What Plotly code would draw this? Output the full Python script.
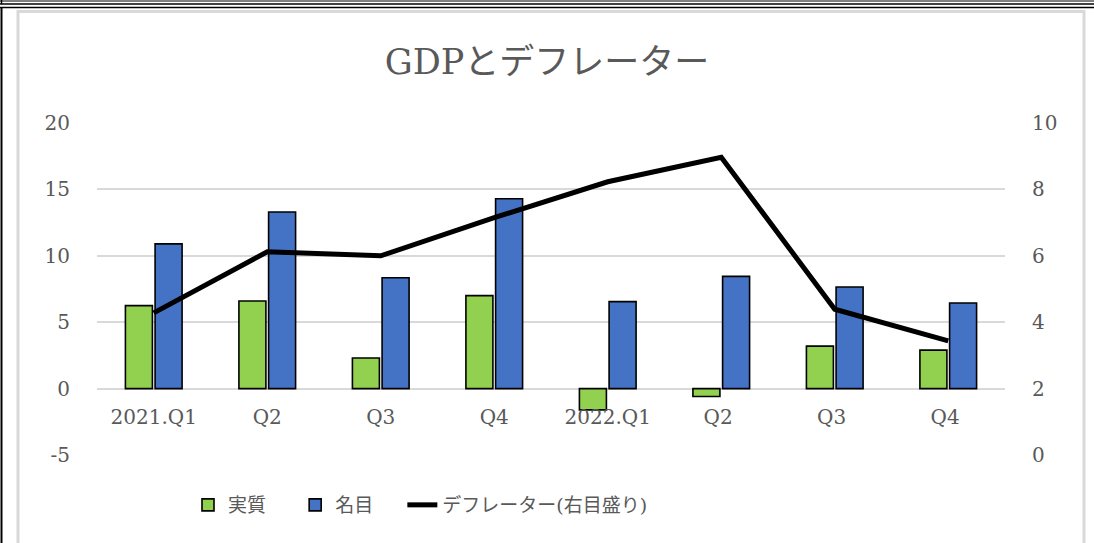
import plotly.graph_objects as go

categories = ["2021.Q1", "Q2", "Q3", "Q4", "2022.Q1", "Q2 ", "Q3 ", "Q4 "]
real_gdp = [6.25, 6.6, 2.3, 7.0, -1.6, -0.6, 3.2, 2.9]
nominal_gdp = [10.9, 13.3, 8.35, 14.3, 6.55, 8.45, 7.65, 6.45]
deflator = [4.28, 6.12, 6.0, 7.15, 8.23, 8.97, 4.39, 3.44]

series_names = ["実質", "名目", "デフレーター(右目盛り)"]
left_ticks = [-5, 0, 5, 10, 15, 20]
left_tick_labels = ["-5", "0", "5", "10", "15", "20"]
right_ticks = [0, 2, 4, 6, 8, 10]
right_tick_labels = ["0", "2", "4", "6", "8", "10"]

W, H = 1094, 543
L, R, T, B = 97, 1005, 123, 455
FONT = "DejaVu Serif, Noto Sans CJK JP, serif"
GRAY = "#595959"
PAD = "\u00a0\u00a0\u00a0\u00a0"

def px(X):
    return (X - L) / (R - L)

def py(Y):
    return (B - Y) / (B - T)

fig = go.Figure()
fig.add_trace(go.Bar(
    x=categories, y=real_gdp, name=series_names[0] + PAD,
    marker=dict(color="#92d050", line=dict(color="black", width=1.6)),
))
fig.add_trace(go.Bar(
    x=categories, y=nominal_gdp, name=series_names[1] + PAD,
    marker=dict(color="#4472c4", line=dict(color="black", width=1.6)),
))
fig.add_trace(go.Scatter(
    x=categories, y=deflator, name=series_names[2], yaxis="y2",
    mode="lines", line=dict(color="black", width=5),
))

shapes = [
    dict(type="rect", xref="paper", yref="paper",
         x0=px(18), x1=px(1084), y0=py(548), y1=py(11.5),
         line=dict(color="#d9d9d9", width=3), fillcolor="rgba(0,0,0,0)", layer="below"),
    dict(type="line", xref="paper", yref="paper", x0=px(0), x1=px(1094), y0=py(1), y1=py(1),
         line=dict(color="black", width=1)),
    dict(type="line", xref="paper", yref="paper", x0=px(0), x1=px(1094), y0=py(4), y1=py(4),
         line=dict(color="black", width=1.5)),
    dict(type="line", xref="paper", yref="paper", x0=px(0), x1=px(1094), y0=py(7.5), y1=py(7.5),
         line=dict(color="black", width=1.5)),
    dict(type="line", xref="paper", yref="paper", x0=px(1.5), x1=px(1.5), y0=py(7.5), y1=py(543),
         line=dict(color="black", width=2)),
    dict(type="line", xref="paper", yref="paper", x0=px(1.5), x1=px(1.5), y0=py(0), y1=py(4),
         line=dict(color="black", width=1.5)),
]

fig.update_layout(
    width=W, height=H,
    margin=dict(l=L, r=W - R, t=T, b=H - B),
    paper_bgcolor="white", plot_bgcolor="white",
    font=dict(family=FONT, color=GRAY, size=20),
    title=dict(text="GDPとデフレーター", x=0.5, xref="container", xanchor="center",
               y=1 - 62 / H, yref="container", yanchor="middle",
               font=dict(family=FONT, size=35, color=GRAY)),
    barmode="group", bargap=0.477, bargroupgap=0.09,
    showlegend=True,
    legend=dict(orientation="h", x=px(188), xanchor="left", y=py(505), yanchor="middle",
                font=dict(family=FONT, size=19, color=GRAY),
                traceorder="normal"),
    xaxis=dict(type="category", range=[-0.5, 7.5], showgrid=False, showline=False,
               zeroline=False, ticks="", anchor="free", position=py(389),
               ticklabelstandoff=14, tickfont=dict(family=FONT, size=20, color=GRAY)),
    yaxis=dict(range=[-5, 20], tickvals=left_ticks, ticktext=left_tick_labels,
               showgrid=True, gridcolor="#d9d9d9",
               gridwidth=1.5, zeroline=False, showline=False, ticks="",
               ticklabelstandoff=26, tickfont=dict(family=FONT, size=20, color=GRAY)),
    yaxis2=dict(range=[0, 10], tickvals=right_ticks, ticktext=right_tick_labels,
                overlaying="y", side="right",
                showgrid=False, zeroline=False, showline=False, ticks="",
                ticklabelstandoff=26, tickfont=dict(family=FONT, size=20, color=GRAY)),
    shapes=shapes,
)

fig.write_html("out.html", config={"displayModeBar": False},
               post_script="document.body.style.margin='0';")
